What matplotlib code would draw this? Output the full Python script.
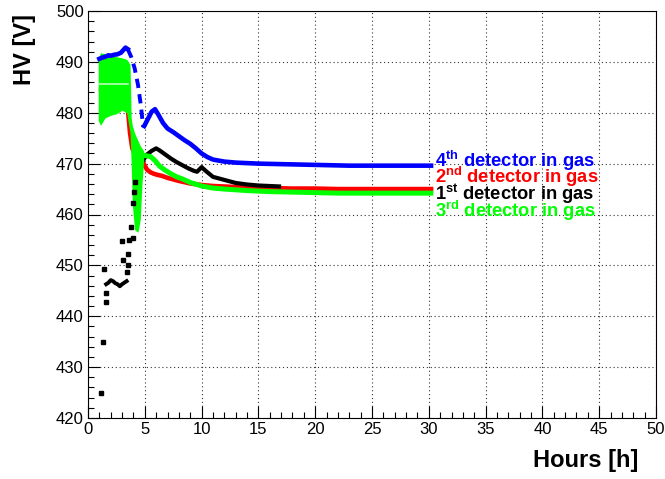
import matplotlib
matplotlib.use('Agg')
import matplotlib.pyplot as plt
from matplotlib.ticker import MultipleLocator

plt.rcParams['font.family'] = ['Liberation Sans', 'DejaVu Sans']
plt.rcParams['mathtext.fontset'] = 'custom'
plt.rcParams['mathtext.rm'] = 'Liberation Sans'
plt.rcParams['mathtext.bf'] = 'Liberation Sans:bold'

# ---------------- data (hours, volts) ----------------
# 4th detector (blue)
blue_start_x = [1.0, 1.2, 1.5, 1.8, 2.0, 2.3, 2.6, 2.9, 3.1, 3.3, 3.5]
blue_start_y = [490.6, 490.8, 491.0, 491.3, 491.2, 491.4, 491.5, 491.8, 492.3, 492.8, 492.5]
blue_drop_x = [3.5, 3.8, 4.1, 4.4, 4.65, 4.85]
blue_drop_y = [492.5, 491.0, 488.8, 485.5, 481.5, 477.3]
blue_x = [4.85, 5.0, 5.3, 5.6, 5.9, 6.2, 6.6, 7.0, 7.5, 8.0, 8.5, 9.0, 9.5, 10.0, 10.5,
          11.0, 12.0, 13.0, 14.0, 15.0, 17.0, 19.0, 21.0, 23.0, 25.0, 27.0, 29.0, 30.4]
blue_y = [477.0, 477.6, 478.9, 480.2, 480.7, 479.6, 478.0, 476.9, 476.2, 475.4, 474.6,
          473.9, 473.0, 472.0, 471.3, 470.8, 470.4, 470.2, 470.1, 470.0, 469.9, 469.8,
          469.7, 469.6, 469.6, 469.6, 469.6, 469.6]

# 2nd detector (red)
red_x = [0.95, 1.5, 2.0, 2.5, 3.0, 3.3, 3.5, 3.7, 3.9, 4.1, 4.3, 4.6, 4.9, 5.2, 5.5,
         5.8, 6.1, 6.5, 7.0, 7.5, 8.0, 9.0, 10.0, 11.0, 12.0, 14.0, 16.0, 18.0, 20.0,
         22.0, 25.0, 28.0, 30.4]
red_y = [484.5, 484.5, 484.6, 484.7, 484.8, 484.5, 481.0, 476.0, 473.0, 472.0, 471.5,
         471.0, 470.0, 468.8, 468.3, 468.0, 467.8, 467.6, 467.2, 466.9, 466.6, 466.1,
         465.8, 465.6, 465.5, 465.3, 465.2, 465.1, 465.1, 465.0, 465.0, 465.0, 465.0]

# 1st detector (black)
black_dots_x = [1.15, 1.3, 1.4, 1.55, 1.6, 2.95, 3.05, 3.4, 3.5, 3.55, 3.65, 3.8, 3.95, 3.95, 4.05, 4.1]
black_dots_y = [424.9, 435.0, 449.3, 444.5, 442.8, 454.7, 451.0, 448.7, 450.0, 452.3, 455.0,
                457.6, 455.4, 462.3, 464.4, 466.4]
black_plateau_x = [1.6, 1.8, 2.0, 2.2, 2.4, 2.6, 2.8, 3.0, 3.2, 3.4]
black_plateau_y = [446.3, 446.6, 447.1, 446.9, 446.5, 446.3, 445.9, 446.3, 446.6, 446.9]
black_x = [4.3, 4.8, 5.2, 5.6, 6.0, 6.3, 6.8, 7.3, 7.8, 8.3, 8.8, 9.3, 9.6, 10.0, 10.4,
           11.0, 12.0, 13.0, 14.0, 15.0, 16.0, 17.0]
black_y = [468.0, 470.5, 471.8, 472.5, 473.0, 472.6, 471.8, 471.0, 470.3, 469.7, 469.1,
           468.6, 468.4, 469.3, 468.5, 467.4, 466.8, 466.2, 465.9, 465.7, 465.6, 465.5]

# 3rd detector (green): noisy cloud envelope, then trace
green_cloud_x = [0.9, 1.1, 1.5, 2.0, 2.5, 3.0, 3.4, 3.7, 3.8, 3.9, 4.1, 4.4, 4.6, 4.75, 4.9]
green_cloud_hi = [490.5, 491.8, 491.6, 491.4, 491.0, 490.8, 490.5, 489.5, 479.0, 477.5,
                  476.0, 474.5, 473.5, 473.0, 472.5]
green_cloud_lo = [478.5, 477.5, 479.0, 479.5, 479.8, 480.5, 480.0, 476.0, 470.0, 462.0,
                  457.0, 456.5, 459.0, 466.0, 470.5]
green_core_x = [1.0, 3.5]
green_core_y = [485.7, 485.7]
green_x = [3.9, 4.2, 4.6, 5.0, 5.5, 5.9, 6.3, 6.8, 7.3, 7.8, 8.3, 9.0, 10.0, 11.0, 12.0,
           14.0, 16.0, 18.0, 20.0, 22.0, 25.0, 28.0, 30.4]
green_y = [471.7, 471.7, 471.7, 471.6, 471.4, 470.6, 469.5, 468.7, 468.0, 467.4, 467.0,
           466.3, 465.6, 465.2, 465.0, 464.7, 464.5, 464.4, 464.3, 464.2, 464.2, 464.2, 464.2]

labels = ['4', '2', '1', '3']
label_sup = ['th', 'nd', 'st', 'rd']
label_y = [469.4, 466.1, 462.85, 459.6]
label_colors = ['#0000ff', '#ff0000', '#000000', '#00ff00']

# ---------------- figure ----------------
fig = plt.figure(figsize=(6.65, 4.79), dpi=100)
ax = fig.add_axes([88/665, 1 - 418/479, (656 - 88)/665, (418 - 11)/479])

lw = 3.3
ax.plot(red_x, red_y, color='#ff0000', lw=lw, solid_capstyle='butt', zorder=3)
ax.fill_between(green_cloud_x, green_cloud_lo, green_cloud_hi, color='#00ff00', lw=0, zorder=4)
ax.plot(green_core_x, green_core_y, color='#b8ffb8', lw=1.2, zorder=4.5)
ax.plot(green_x, green_y, color='#00ff00', lw=3.6, solid_capstyle='butt', zorder=4)
ax.plot(black_plateau_x, black_plateau_y, color='black', lw=2.8, zorder=5)
ax.plot(black_dots_x, black_dots_y, ls='none', marker='s', ms=2.4, color='black', zorder=5)
ax.plot(black_x, black_y, color='black', lw=3.0, solid_capstyle='butt', zorder=3.5)
ax.plot(blue_start_x, blue_start_y, color='#0000ff', lw=lw, zorder=6)
ax.plot(blue_drop_x, blue_drop_y, color='#0000ff', lw=2.8, ls=(0, (2.4, 1.6)), zorder=6)
ax.plot(blue_x, blue_y, color='#0000ff', lw=lw, solid_capstyle='butt', zorder=6)

for lab, sup, yy, c in zip(labels, label_sup, label_y, label_colors):
    ax.text(30.55, yy, r'$\mathbf{%s^{%s}}$ detector in gas' % (lab, sup),
            color=c, fontsize=13.2, fontweight='bold', va='baseline', ha='left', zorder=7)

ax.set_xlim(0, 50)
ax.set_ylim(420, 500)
ax.xaxis.set_major_locator(MultipleLocator(5))
ax.xaxis.set_minor_locator(MultipleLocator(1))
ax.yaxis.set_major_locator(MultipleLocator(10))
ax.yaxis.set_minor_locator(MultipleLocator(2))
ax.grid(True, which='major', color='#333333', ls=(0, (1, 2.5)), lw=0.8)
ax.tick_params(which='both', direction='in', top=False, right=False, labelsize=12, pad=3, width=0.8)
ax.tick_params(which='major', length=8.5)
ax.tick_params(which='minor', length=4.5)
for s in ax.spines.values():
    s.set_linewidth(0.8)

fig.text(638/665, 1 - 460/479, 'Hours [h]', fontsize=17, fontweight='bold', ha='right', va='center')
fig.text(24/665, 1 - 14/479, 'HV [V]', fontsize=17, fontweight='bold', rotation=90, ha='center', va='top')

fig.savefig('out.png', dpi=100)
